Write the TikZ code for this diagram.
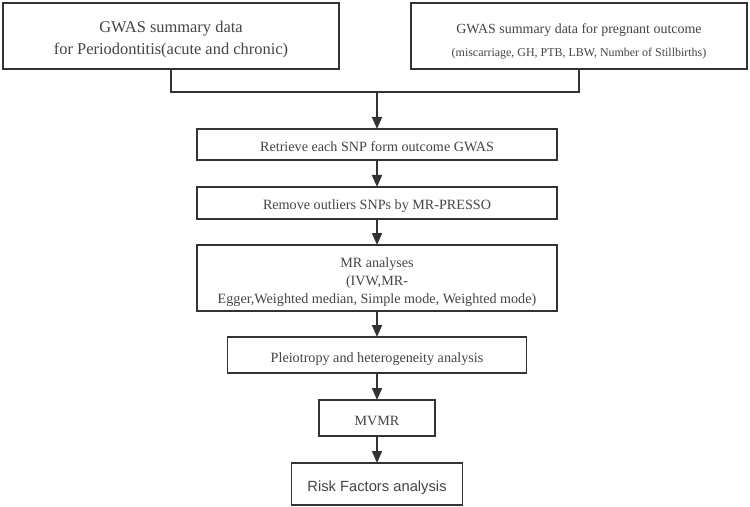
\documentclass[tikz,border=0pt]{standalone}
\usepackage{fontspec}
\setmainfont{Liberation Serif}
\newfontfamily\riskfont{Liberation Sans}
\usepackage{tikz}
\usetikzlibrary{arrows.meta, positioning}
\definecolor{LineDark}{HTML}{333333}
\definecolor{TextGray}{HTML}{444444}

\begin{document}
\begin{tikzpicture}[
    x=1bp, y=1bp,
    box/.style={
      draw=LineDark, fill=white, line width=1.8bp,
      inner sep=0pt, outer sep=0pt, align=center, text=TextGray,
      text depth=0pt, minimum width=#1
    },
    box/.default=360bp,
    oneline/.style={text height=14bp,
      font=\fontsize{14.2}{17.5}\selectfont},
    arr/.style={-{Triangle[length=12bp,width=10bp]}, line width=1.8bp, color=LineDark},
    link/.style={line width=1.8bp, color=LineDark}
  ]
    \useasboundingbox (0,0) rectangle (750,-507);

    % GWAS inputs
    \node[box=336bp, minimum height=66bp, text height=38bp,
          font=\fontsize{16.5}{23}\selectfont] (gwasperio) at (171,-36)
      {GWAS summary data\\for Periodontitis(acute and chronic)};
    \node[box=336bp, minimum height=66bp, text height=42bp,
          font=\fontsize{14}{24}\selectfont] (gwaspreg) at (579,-36)
      {GWAS summary data for pregnant outcome\\
       {\fontsize{12}{24}\selectfont(miscarriage, GH, PTB, LBW, Number of Stillbirths)}};

    % Pipeline
    \node[box, oneline, minimum height=31bp]
      (retrieve) at (377,-144.5) {Retrieve each SNP form outcome GWAS};
    \node[box, oneline, minimum height=32bp,
          below=27bp of retrieve] (presso) {Remove outliers SNPs by MR-PRESSO};
    \node[box, minimum height=66bp, text height=50bp,
          font=\fontsize{14.2}{18}\selectfont,
          below=26bp of presso] (mr)
      {MR analyses\\(IVW,MR-\\Egger,Weighted median, Simple mode, Weighted mode)};
    \node[box=299bp, oneline, minimum height=36bp,
          below=26bp of mr] (pleio) {Pleiotropy and heterogeneity analysis};
    \node[box=116bp, oneline, minimum height=36bp,
          below=27bp of pleio] (mvmr) {MVMR};
    \node[box=171bp, oneline, minimum height=42bp, text height=15bp,
          font=\riskfont\fontsize{14.8}{18}\selectfont,
          below=27bp of mvmr] (risk) {Risk Factors analysis};

    % Merge of the two inputs
    \coordinate (join) at (377,-92);
    \draw[link] (gwasperio.south) |- (join);
    \draw[link] (gwaspreg.south) |- (join);

    % Arrows
    \draw[arr] (join)     -- (retrieve);
    \draw[arr] (retrieve) -- (presso);
    \draw[arr] (presso)   -- (mr);
    \draw[arr] (mr)       -- (pleio);
    \draw[arr] (pleio)    -- (mvmr);
    \draw[arr] (mvmr)     -- (risk);
  \end{tikzpicture}
\end{document}
